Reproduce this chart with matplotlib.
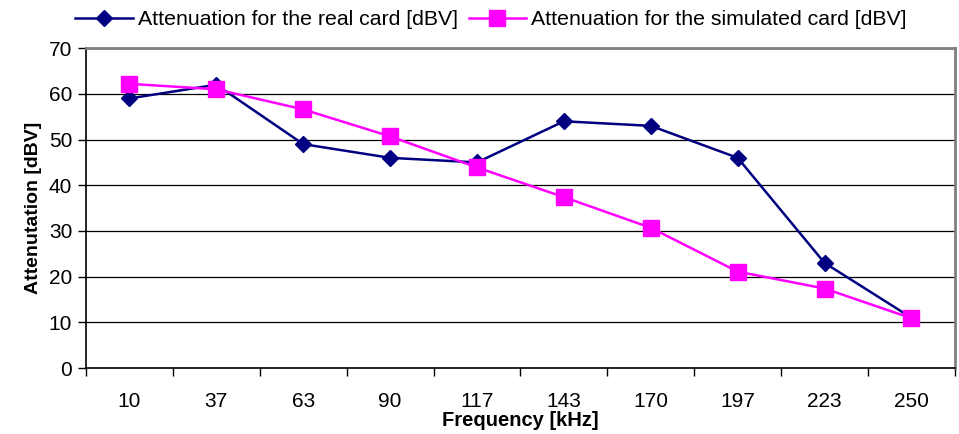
import matplotlib.pyplot as plt

plt.rcParams["font.family"] = ["Liberation Sans", "DejaVu Sans"]

frequencies = ["10", "37", "63", "90", "117", "143", "170", "197", "223", "250"]
real_card = [59, 62, 49, 46, 45, 54, 53, 46, 23, 11]
simulated_card = [62.2, 61, 56.6, 50.7, 43.9, 37.4, 30.7, 21.1, 17.4, 10.9]

fig = plt.figure(figsize=(9.59, 4.34), dpi=100)
ax = fig.add_axes([0.0897, 0.152, 0.906, 0.737])

x = list(range(len(frequencies)))
ax.plot(x, real_card, color="#000080", lw=1.8, marker="D", ms=8,
        label="Attenuation for the real card [dBV]", zorder=3)
ax.plot(x, simulated_card, color="#FF00FF", lw=1.8, marker="s", ms=11,
        label="Attenuation for the simulated card [dBV]", zorder=3)

ax.set_xlim(-0.5, len(frequencies) - 0.5)
ax.set_ylim(0, 70)
ax.set_yticks(range(0, 71, 10))
ax.set_xticks(x)
ax.set_xticklabels(frequencies)
ax.set_xticks([i - 0.5 for i in range(len(frequencies) + 1)], minor=True)
ax.tick_params(axis="x", which="major", length=0, pad=17, labelsize=15)
ax.tick_params(axis="x", which="minor", length=6, width=1)
ax.tick_params(axis="y", length=6, width=1, labelsize=15, pad=4)
ax.grid(axis="y", color="black", lw=0.9)
ax.set_axisbelow(True)

for side in ("top", "right"):
    ax.spines[side].set_color("#808080")
    ax.spines[side].set_linewidth(2)
for side in ("left", "bottom"):
    ax.spines[side].set_color("black")
    ax.spines[side].set_linewidth(1.2)

ax.set_xlabel("Frequency [kHz]", fontsize=14.5, fontweight="bold", labelpad=0)
ax.set_ylabel("Attenutation [dBV]", fontsize=14, fontweight="bold", labelpad=5)

fig.legend(loc="upper center", bbox_to_anchor=(0.512, 1.02), ncol=2, frameon=False,
           fontsize=15.3, handlelength=2.7, columnspacing=0.5, handletextpad=0.25)

fig.savefig("out.png", dpi=100)
